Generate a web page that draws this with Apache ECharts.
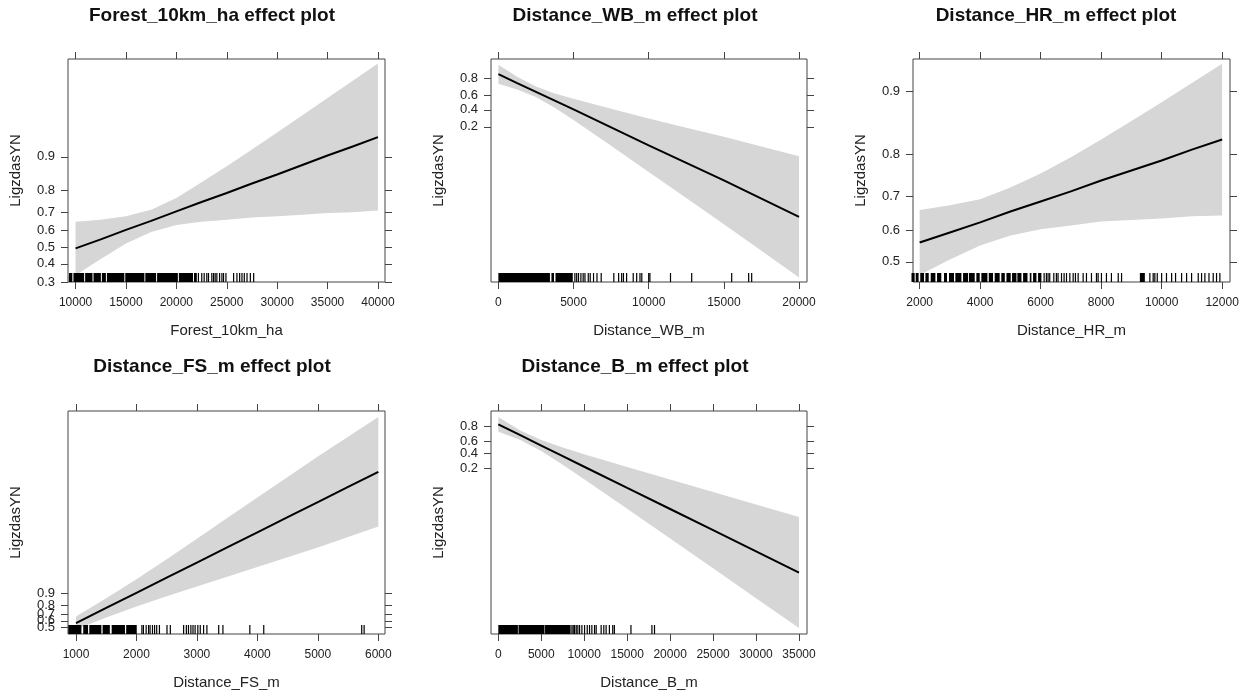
<!DOCTYPE html>
<html>
<head>
<meta charset="utf-8">
<script src="https://cdn.jsdelivr.net/npm/echarts@6/dist/echarts.min.js"></script>
<style>
html, body { margin: 0; padding: 0; background: #fff; }
#chart { width: 1243px; height: 693px; }
</style>
</head>
<body>
<div id="chart"></div>
<script>
// fitted values and 95% band, on the logit (linear predictor) scale

// Forest_10km_ha
const x1 = [10000, 12500, 15000, 17500, 20000, 22500, 25000, 27500, 30000, 32500, 35000, 37500, 40000]
const fit1 = [-0.03, 0.19, 0.42, 0.64, 0.87, 1.10, 1.32, 1.55, 1.77, 2.00, 2.23, 2.45, 2.68]
const up1 = [0.62, 0.67, 0.75, 0.91, 1.20, 1.58, 1.97, 2.38, 2.79, 3.21, 3.63, 4.05, 4.47]
const lo1 = [-0.68, -0.29, 0.09, 0.37, 0.54, 0.62, 0.67, 0.72, 0.75, 0.79, 0.83, 0.85, 0.89]
const rugBlocks1 = [[9340, 9680], [9790, 10850], [10950, 11680], [11780, 12510], [12610, 13010], [13110, 14840],
    [14930, 16830], [16920, 17990], [18090, 20150], [20250, 21650], [21750, 22030]]
const rugTicks1 = [22190, 22520, 22760, 23020, 23190, 23520, 23690, 23850, 24020, 24290, 24520, 24680, 24920,
    25680, 26010, 26280, 26510, 26740, 27010, 27340, 27670]
const xTicks1 = [10000, 15000, 20000, 25000, 30000, 35000, 40000]
const pTicks1 = [0.3, 0.4, 0.5, 0.6, 0.7, 0.8, 0.9]

// Distance_WB_m
const x2 = [0, 1250, 2500, 3750, 5000, 7500, 10000, 12500, 15000, 17500, 20000]
const fit2 = [1.63, 1.12, 0.62, 0.12, -0.38, -1.41, -2.44, -3.44, -4.45, -5.49, -6.53]
const up2 = [2.17, 1.48, 0.92, 0.53, 0.23, -0.35, -0.91, -1.43, -1.95, -2.51, -3.06]
const lo2 = [1.09, 0.76, 0.32, -0.29, -0.99, -2.47, -3.97, -5.45, -6.95, -8.47, -10.00]
const rugBlocks2 = [[0, 3430], [3530, 3700], [3800, 4950]]
const rugTicks2 = [5090, 5210, 5330, 5490, 5640, 5760, 5980, 6110, 6330, 6560, 6840, 7680, 8000, 8200, 8320,
    8530, 8970, 9200, 9420, 9540, 10000, 10080, 11450, 12860, 15520, 16650, 16850]
const xTicks2 = [0, 5000, 10000, 15000, 20000]
const pTicks2 = [0.2, 0.4, 0.6, 0.8]

// Distance_HR_m
const x3 = [2000, 3000, 4000, 5000, 6000, 7000, 8000, 9000, 10000, 11000, 12000]
const fit3 = [0.25, 0.38, 0.51, 0.65, 0.78, 0.91, 1.05, 1.18, 1.31, 1.45, 1.58]
const up3 = [0.67, 0.73, 0.81, 0.96, 1.14, 1.35, 1.58, 1.82, 2.06, 2.31, 2.56]
const lo3 = [-0.17, 0.03, 0.21, 0.34, 0.42, 0.47, 0.52, 0.54, 0.56, 0.59, 0.60]
const rugBlocks3 = [[1730, 1835], [1870, 1965], [2020, 2145], [2190, 2300], [2365, 2520], [2575, 2715], [2805, 2905],
    [2970, 3135], [3180, 3380], [3435, 3600], [3630, 3820], [3875, 3985], [4040, 4240], [4285, 4425], [4480, 4645],
    [4700, 4815], [4870, 5010], [5055, 5200], [5230, 5365], [5420, 5565], [5640, 5695], [5750, 5860], [5915, 6025],
    [9280, 9445]]
const rugTicks3 = [6115, 6190, 6245, 6300, 6435, 6520, 6575, 6690, 6775, 6855, 6965, 7075, 7150, 7240, 7405, 7515,
    7680, 7845, 7900, 8010, 8175, 8340, 8565, 8675, 9610, 9720, 9775, 9855, 10000, 10160, 10330, 10460, 10660,
    10825, 10990, 11210, 11320, 11430, 11565, 11705, 11815, 11925]
const xTicks3 = [2000, 4000, 6000, 8000, 10000, 12000]
const pTicks3 = [0.5, 0.6, 0.7, 0.8, 0.9]

// Distance_FS_m
const x4 = [1000, 1500, 2000, 2500, 3000, 3500, 4000, 4500, 5000, 5500, 6000]
const fit4 = [0.26, 1.24, 2.22, 3.20, 4.18, 5.16, 6.14, 7.12, 8.10, 9.08, 10.06]
const up4 = [0.68, 1.86, 3.10, 4.40, 5.73, 7.06, 8.39, 9.72, 11.05, 12.33, 13.61]
const lo4 = [-0.16, 0.62, 1.34, 2.00, 2.63, 3.26, 3.89, 4.52, 5.15, 5.83, 6.51]
const rugBlocks4 = [[873, 1090], [1120, 1200], [1220, 1420], [1440, 1560], [1590, 1810], [1830, 2005]]
const rugTicks4 = [2090, 2115, 2160, 2200, 2225, 2265, 2300, 2335, 2380, 2505, 2560, 2780, 2825, 2860, 2900,
    2935, 2970, 3015, 3055, 3110, 3165, 3360, 3430, 3875, 4105, 5725, 5765]
const xTicks4 = [1000, 2000, 3000, 4000, 5000, 6000]
const pTicks4 = [0.5, 0.6, 0.7, 0.8, 0.9]

// Distance_B_m
const x5 = [0, 2500, 5000, 7500, 10000, 15000, 20000, 25000, 30000, 35000]
const fit5 = [1.49, 0.80, 0.11, -0.58, -1.27, -2.65, -4.02, -5.40, -6.78, -8.16]
const up5 = [1.97, 1.11, 0.47, -0.02, -0.45, -1.29, -2.10, -2.92, -3.73, -4.55]
const lo5 = [1.01, 0.49, -0.25, -1.14, -2.09, -4.01, -5.94, -7.88, -9.83, -11.77]
const rugBlocks5 = [[0, 2280], [2350, 5380], [5440, 8420]]
const rugTicks5 = [8570, 8720, 8880, 9070, 9260, 9460, 9730, 10040, 10350, 10620, 10890, 11200, 11390, 11970,
    12280, 12550, 12930, 13320, 13510, 15440, 17880, 18180]
const xTicks5 = [0, 5000, 10000, 15000, 20000, 25000, 30000, 35000]
const pTicks5 = [0.2, 0.4, 0.6, 0.8]

function logit(p) { return Math.log(p / (1 - p)) }

const panels = [
    { title: 'Forest_10km_ha effect plot', xName: 'Forest_10km_ha', tx: 212, ty: 16,
      grid: { left: 68, top: 59, width: 317, height: 223 }, xr: [9250, 40700], yr: [logit(0.3), 4.58],
      x: x1, fit: fit1, up: up1, lo: lo1, blocks: rugBlocks1, ticks: rugTicks1, xt: xTicks1, pt: pTicks1 },
    { title: 'Distance_WB_m effect plot', xName: 'Distance_WB_m', tx: 635, ty: 16,
      grid: { left: 491, top: 59, width: 316, height: 223 }, xr: [-490, 20530], yr: [-10.26, 2.50],
      x: x2, fit: fit2, up: up2, lo: lo2, blocks: rugBlocks2, ticks: rugTicks2, xt: xTicks2, pt: pTicks2 },
    { title: 'Distance_HR_m effect plot', xName: 'Distance_HR_m', tx: 1056, ty: 16,
      grid: { left: 913, top: 59, width: 317, height: 223 }, xr: [1780, 12260], yr: [-0.26, 2.62],
      x: x3, fit: fit3, up: up3, lo: lo3, blocks: rugBlocks3, ticks: rugTicks3, xt: xTicks3, pt: pTicks3 },
    { title: 'Distance_FS_m effect plot', xName: 'Distance_FS_m', tx: 212, ty: 367,
      grid: { left: 68, top: 411, width: 317, height: 223 }, xr: [868, 6110], yr: [-0.45, 14.0],
      x: x4, fit: fit4, up: up4, lo: lo4, blocks: rugBlocks4, ticks: rugTicks4, xt: xTicks4, pt: pTicks4 },
    { title: 'Distance_B_m effect plot', xName: 'Distance_B_m', tx: 635, ty: 367,
      grid: { left: 491, top: 411, width: 316, height: 223 }, xr: [-850, 35930], yr: [-12.16, 2.36],
      x: x5, fit: fit5, up: up5, lo: lo5, blocks: rugBlocks5, ticks: rugTicks5, xt: xTicks5, pt: pTicks5 }
]

const font = 'Liberation Sans, Arial, sans-serif'
const tickColor = '#444'

const option = {
    animation: false,
    backgroundColor: '#fff',
    textStyle: { fontFamily: font },
    grid: [], xAxis: [], yAxis: [], series: [], graphic: []
}

function probLabel(v) { return (1 / (1 + Math.exp(-v))).toFixed(1) }

panels.forEach(function (p, i) {
    option.grid.push(Object.assign({ show: true, borderColor: tickColor, borderWidth: 1 }, p.grid))

    const yt = p.pt.map(logit)
    // crowded labels get hidden by echarts, so every other label goes on a twin axis
    const ytEven = yt.filter(function (v, k) { return k % 2 === 0 })
    const ytOdd = yt.filter(function (v, k) { return k % 2 === 1 })
    const xBase = {
        type: 'value', gridIndex: i, min: p.xr[0], max: p.xr[1],
        splitLine: { show: false }, axisLine: { show: false, onZero: false }
    }
    const yBase = {
        type: 'value', gridIndex: i, min: p.yr[0], max: p.yr[1],
        splitLine: { show: false }, axisLine: { show: false, onZero: false }
    }
    const yLabel = {
        margin: 13, fontSize: 13, color: '#222', fontFamily: font,
        hideOverlap: false, showMinLabel: true, showMaxLabel: true, formatter: probLabel
    }
    option.xAxis.push(Object.assign({}, xBase, {
        position: 'bottom',
        name: p.xName, nameLocation: 'middle', nameGap: 41,
        nameTextStyle: { fontSize: 15, color: '#222', fontFamily: font },
        axisTick: { customValues: p.xt, length: 7, lineStyle: { color: tickColor } },
        axisLabel: {
            customValues: p.xt, margin: 15, fontSize: 12, color: '#222', fontFamily: font,
            hideOverlap: false, showMinLabel: true, showMaxLabel: true,
            formatter: function (v) { return String(v) }
        }
    }))
    option.xAxis.push(Object.assign({}, xBase, {
        position: 'top',
        axisTick: { customValues: p.xt, length: 7, lineStyle: { color: tickColor } },
        axisLabel: { show: false }
    }))
    option.yAxis.push(Object.assign({}, yBase, {
        position: 'left',
        name: 'LigzdasYN', nameLocation: 'middle', nameGap: 45,
        nameTextStyle: { fontSize: 15, color: '#222', fontFamily: font },
        axisTick: { customValues: yt, length: 7, lineStyle: { color: tickColor } },
        axisLabel: Object.assign({ customValues: ytEven }, yLabel)
    }))
    option.yAxis.push(Object.assign({}, yBase, {
        position: 'right',
        axisTick: { customValues: yt, length: 7, lineStyle: { color: tickColor } },
        axisLabel: { show: false }
    }))
    option.yAxis.push(Object.assign({}, yBase, {
        position: 'left',
        axisTick: { show: false },
        axisLabel: Object.assign({ customValues: ytOdd.length ? ytOdd : [p.yr[0] - 1] }, yLabel)
    }))

    // confidence band as one polygon: upper edge left to right, lower edge back
    const band = p.x.map(function (x, k) { return [x, p.lo[k], p.up[k]] })
    option.series.push({
        type: 'custom', xAxisIndex: 2 * i, yAxisIndex: 3 * i, silent: true, z: 1,
        data: band,
        encode: { x: 0, y: [1, 2] },
        renderItem: function (params, api) {
            if (params.dataIndex !== 0) return null
            const top = band.map(function (d) { return api.coord([d[0], d[2]]) })
            const bottom = band.map(function (d) { return api.coord([d[0], d[1]]) }).reverse()
            const cs = params.coordSys
            return {
                type: 'polygon',
                shape: { points: top.concat(bottom) },
                style: { fill: '#d6d6d6' },
                clipPath: { type: 'rect', shape: { x: cs.x, y: cs.y, width: cs.width, height: cs.height } }
            }
        }
    })
    option.series.push({
        type: 'line', xAxisIndex: 2 * i, yAxisIndex: 3 * i,
        symbol: 'none', silent: true, z: 3,
        lineStyle: { color: '#000', width: 2 },
        data: p.x.map(function (x, k) { return [x, p.fit[k]] })
    })

    // rug of observed x values along the bottom of the panel
    const rug = p.blocks.concat(p.ticks.map(function (v) { return [v, v] }))
    option.series.push({
        type: 'custom', xAxisIndex: 2 * i, yAxisIndex: 3 * i, silent: true, z: 4,
        data: rug,
        encode: { x: [0, 1] },
        renderItem: function (params, api) {
            const a = api.coord([api.value(0), 0])
            const b = api.coord([api.value(1), 0])
            const cs = params.coordSys
            let w = b[0] - a[0]
            let x0 = a[0]
            if (w < 1.2) { x0 = a[0] - 0.6; w = 1.2 }
            return {
                type: 'rect',
                shape: { x: x0, y: cs.y + cs.height - 9, width: w, height: 9 },
                style: { fill: '#000' }
            }
        }
    })

    option.graphic.push({
        type: 'text', x: p.tx, y: p.ty, silent: true,
        style: {
            text: p.title, align: 'center', verticalAlign: 'middle',
            font: 'bold 19px ' + font, fill: '#111'
        }
    })
})

const chart = echarts.init(document.getElementById('chart'))
chart.setOption(option)
</script>
</body>
</html>
